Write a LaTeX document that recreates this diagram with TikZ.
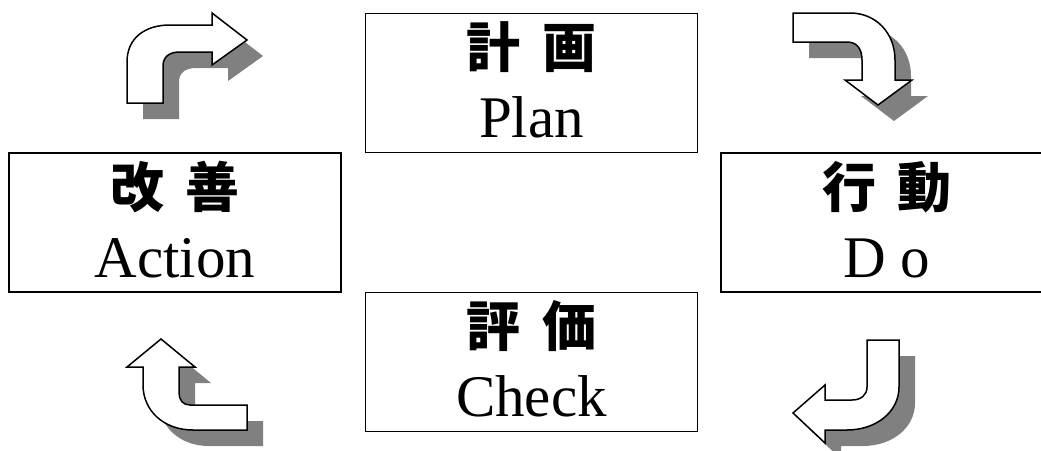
\documentclass[tikz,border=0pt]{standalone}
\usepackage{fontspec}
\setmainfont{Liberation Serif}
\newfontfamily\cjk{Noto Sans CJK JP}
\usepackage{tikz}
\tikzset{>=latex}
\usetikzlibrary{shadows}
\definecolor{mygray}{HTML}{808080}
\tikzset{
  stage/.style={draw,line width=1.2pt,minimum width=332pt,minimum height=139pt,inner sep=0pt},
  jp/.style={font=\cjk\bfseries\fontsize{54}{54}\selectfont,inner sep=0pt,anchor=base},
  en/.style={font=\fontsize{59}{59}\selectfont,inner sep=0pt,anchor=base},
  bendarrow/.style={draw,line width=1.5pt,fill=white,
    drop shadow={shadow xshift=16pt,shadow yshift=-16pt,opacity=1,fill=mygray}}
}
\begin{document}
\begin{tikzpicture}[x=1pt,y=-1pt]
		\useasboundingbox (0,0) rectangle (1041,450);

		% the four stages
		\node[stage] (plan) at (531.5,83) {};
		\node[stage] (act) at (175,222.5) {};
		\node[stage] (do) at (887,222.5) {};
		\node[stage] (check) at (531.5,362) {};

		\node[jp] (plan-jp) at ([yshift=-55pt]plan.north) {計\hspace{22pt}画};
		\node[en] (plan-en) at ([yshift=-125pt]plan.north) {Plan};
		\node[jp] (act-jp) at ([yshift=-55pt]act.north) {改\hspace{22pt}善};
		\node[en] (act-en) at ([yshift=-125pt]act.north) {Action};
		\node[jp] (do-jp) at ([yshift=-55pt]do.north) {行\hspace{22pt}動};
		\node[en] (do-en) at ([yshift=-125pt]do.north) {D o};
		\node[jp] (check-jp) at ([yshift=-55pt]check.north) {評\hspace{22pt}価};
		\node[en] (check-en) at ([yshift=-125pt]check.north) {Check};

		% turning arrows with shadow
		\draw[bendarrow] (127,103) -- (127,62) .. controls (127,38) and (145,25) .. (170,25) -- (212,25) -- (212,13) -- (247,40) -- (212,65) -- (212,52) -- (180,52) .. controls (169,52) and (163,57) .. (163,66) -- (163,103) -- cycle;
		\draw[bendarrow] (793,13) -- (850,13) .. controls (876,13) and (895,33) .. (895,60) -- (895,80) -- (912,80) -- (878,105) -- (845,80) -- (862,80) -- (862,60) .. controls (862,49) and (857,42) .. (847,42) -- (793,42) -- cycle;
		\draw[bendarrow] (867,340) -- (899,340) -- (899,387) .. controls (899,412) and (876,430) .. (847,430) -- (825,430) -- (825,443) -- (793,413) -- (825,385) -- (825,400) -- (852,400) .. controls (861,400) and (867,395) .. (867,387) -- cycle;
		\draw[bendarrow] (247,430) -- (193,430) .. controls (163,430) and (143,410) .. (143,385) -- (143,367) -- (127,367) -- (161,339) -- (195,367) -- (179,367) -- (179,393) .. controls (179,400) and (183,405) .. (190,405) -- (247,405) -- cycle;
	\end{tikzpicture}
\end{document}
